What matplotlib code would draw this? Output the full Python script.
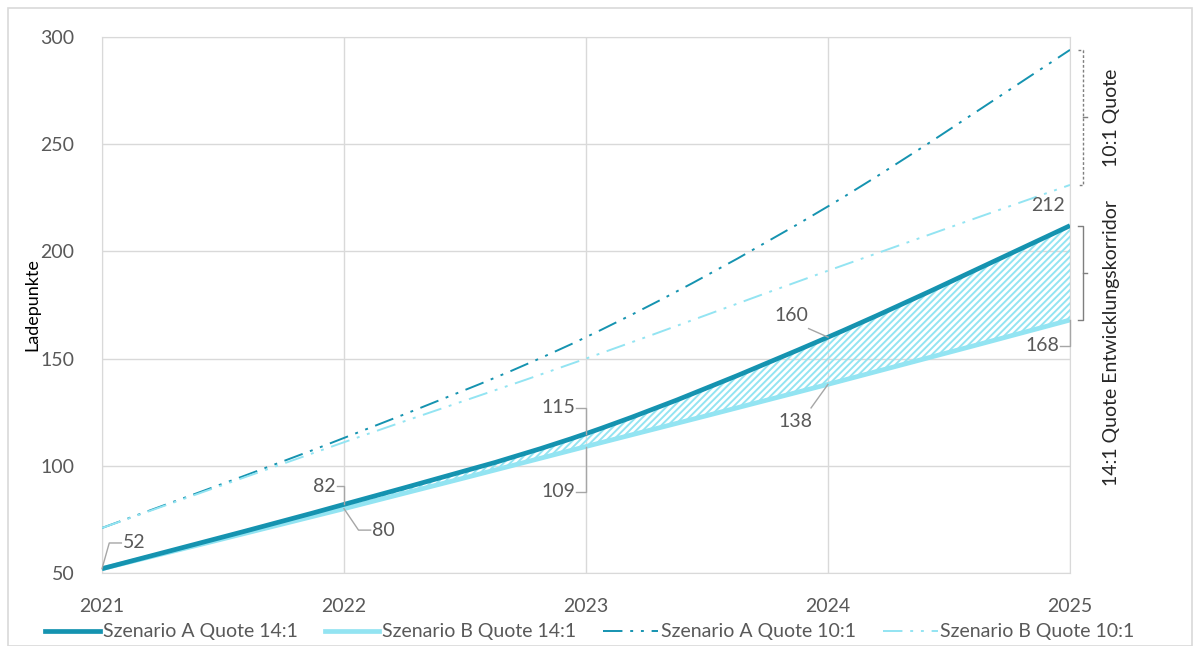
import numpy as np
import matplotlib
matplotlib.use("Agg")
import matplotlib.pyplot as plt
from matplotlib.path import Path
from matplotlib.patches import PathPatch, Rectangle
from matplotlib.lines import Line2D

plt.rcParams['font.family'] = ['Lato', 'DejaVu Sans']
plt.rcParams['hatch.linewidth'] = 1.4

# ---- data ----
years = [2021, 2022, 2023, 2024, 2025]
a_14 = [52, 82, 115, 160, 212]
b_14 = [52, 80, 109, 138, 168]
a_10 = [71, 113, 160, 221, 294]
b_10 = [71, 111, 150, 191, 231]

labels = ['Szenario A Quote 14:1', 'Szenario B Quote 14:1',
          'Szenario A Quote 10:1', 'Szenario B Quote 10:1']

C_A = '#1593b0'
C_B = '#93e4f2'
GRID = '#d9d9d9'
TXT = '#595959'
DASH = (0, (10, 4, 1.5, 4, 1.5, 4))


def smooth_path(x, y):
    # Excel-like smoothed line: cubic bezier segments (Catmull-Rom control points)
    p = np.column_stack([x, y]).astype(float)
    ext = np.vstack([p[0], p, p[-1]])
    verts = [p[0]]
    codes = [Path.MOVETO]
    for i in range(len(p) - 1):
        p0, p1, p2, p3 = ext[i], ext[i + 1], ext[i + 2], ext[i + 3]
        c1 = p1 + (p2 - p0) / 6.0
        c2 = p2 - (p3 - p1) / 6.0
        verts += [c1, c2, p2]
        codes += [Path.CURVE4] * 3
    return np.array(verts), codes


fig = plt.figure(figsize=(11.94, 6.46), dpi=100)
fig.patches.append(Rectangle((8 / 1194, 0.0), 1184 / 1194, 638 / 646, transform=fig.transFigure,
                             fill=False, edgecolor=GRID, lw=1.2))
ax = fig.add_axes([102 / 1194, 73 / 646, 968 / 1194, 536 / 646])

# hatched corridor between A and B (14:1)
va, ca = smooth_path(years, a_14)
vb, cb = smooth_path(years[::-1], b_14[::-1])
verts = np.vstack([va, vb[0:1], vb[1:], va[0:1]])
codes = ca + [Path.LINETO] + cb[1:] + [Path.CLOSEPOLY]
corr = PathPatch(Path(verts, codes), facecolor='none', edgecolor=C_B, hatch='/////', lw=0, zorder=2)
ax.add_patch(corr)

styles = [
    (a_10, C_A, 1.4, DASH),
    (b_10, C_B, 1.4, DASH),
    (b_14, C_B, 3.4, '-'),
    (a_14, C_A, 3.4, '-'),
]
for vals, col, lw, ls in styles:
    v, c = smooth_path(years, vals)
    ax.add_patch(PathPatch(Path(v, c), facecolor='none', edgecolor=col, lw=lw,
                           linestyle=ls, capstyle='butt', zorder=3))

ax.set_xlim(2021, 2025)
ax.set_ylim(50, 300)
ax.set_xticks(years)
ax.set_yticks([50, 100, 150, 200, 250, 300])
ax.tick_params(length=0, labelsize=14, labelcolor=TXT)
ax.tick_params(axis='x', pad=18)
ax.tick_params(axis='y', pad=20)
ax.grid(True, color=GRID, lw=1)
ax.set_axisbelow(True)
for s in ax.spines.values():
    s.set_color(GRID)
ax.set_ylabel('Ladepunkte', fontsize=13, color='black', labelpad=0)

# ---- data labels with leader lines ----
LC = '#a6a6a6'
def leader(xs, ys):
    ax.plot(xs, ys, color=LC, lw=1, zorder=4, clip_on=False)

lab_kw = dict(fontsize=14, color=TXT, zorder=5)
leader([2021, 2021.03, 2021.08], [a_14[0], 64, 64])
ax.text(2021.085, 64, str(a_14[0]), ha='left', va='center', **lab_kw)

leader([2022, 2022, 2021.97], [a_14[1], 90.5, 90.5])
ax.text(2021.965, 90.5, str(a_14[1]), ha='right', va='center', **lab_kw)
leader([2022, 2022.06, 2022.11], [b_14[1], 70, 70])
ax.text(2022.115, 70, str(b_14[1]), ha='left', va='center', **lab_kw)

leader([2023, 2023, 2022.96], [a_14[2], 127, 127])
ax.text(2022.955, 127, str(a_14[2]), ha='right', va='center', **lab_kw)
leader([2023, 2023, 2022.96], [b_14[2], 88, 88])
ax.text(2022.955, 88, str(b_14[2]), ha='right', va='center', **lab_kw)

leader([2024, 2023.92], [a_14[3], 164])
ax.text(2023.92, 170, str(a_14[3]), ha='right', va='center', **lab_kw)
leader([2024, 2023.93], [b_14[3], 127])
ax.text(2023.935, 120.5, str(b_14[3]), ha='right', va='center', **lab_kw)

ax.text(2024.98, 221.5, str(a_14[4]), ha='right', va='center', **lab_kw)
leader([2025, 2025, 2024.96], [b_14[4], 156, 156])
ax.text(2024.955, 156, str(b_14[4]), ha='right', va='center', **lab_kw)

# ---- brackets on the right ----
BX = 2025.055
def bracket(y0, y1, ls):
    ax.plot([BX - 0.02, BX, BX, BX - 0.02], [y0, y0, y1, y1], color='#7f7f7f', lw=1,
            linestyle=ls, clip_on=False)
    ym = (y0 + y1) / 2
    ax.plot([BX, BX + 0.015], [ym, ym], color='#7f7f7f', lw=1, clip_on=False)

bracket(a_10[-1], b_10[-1], (0, (2, 1.5)))
bracket(a_14[-1], b_14[-1], '-')

fig.text(1111 / 1194, 1 - 118 / 646, '10:1 Quote', rotation=90, ha='center', va='center',
         fontsize=14, color='#262626')
fig.text(1111 / 1194, 1 - 343 / 646, '14:1 Quote Entwicklungskorridor', rotation=90,
         ha='center', va='center', fontsize=14, color='#262626')

# ---- legend ----
handles = [
    Line2D([], [], color=C_A, lw=3.4),
    Line2D([], [], color=C_B, lw=3.4),
    Line2D([], [], color=C_A, lw=1.4, linestyle=DASH),
    Line2D([], [], color=C_B, lw=1.4, linestyle=DASH),
]
leg = fig.legend(handles, labels, loc='center', bbox_to_anchor=(590 / 1194, 1 - 632 / 646), ncol=4,
                 frameon=False, fontsize=14, handlelength=2.8, handletextpad=0.15,
                 columnspacing=1.4, labelcolor=TXT)

fig.savefig('out.png', dpi=100)
